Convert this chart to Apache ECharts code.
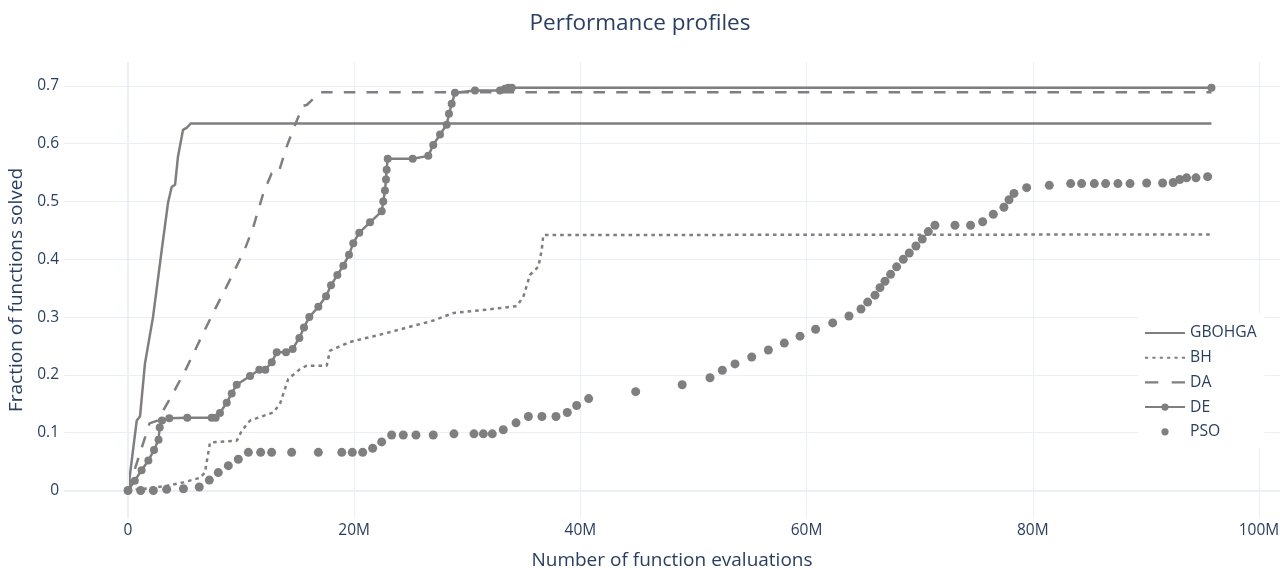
<!DOCTYPE html>
<html>
<head>
<meta charset="utf-8">
<title>Performance profiles</title>
<script src="https://cdn.jsdelivr.net/npm/echarts@6/dist/echarts.min.js"></script>
<style>
  html, body { margin: 0; padding: 0; background: #fff; }
  #chart { width: 1280px; height: 568px; }
</style>
</head>
<body>
<div id="chart"></div>
<script>
// Function evaluations are in millions (M); values are the fraction of functions solved.
const xTicks = [0, 20, 40, 60, 80, 100];
const yTicks = [0, 0.1, 0.2, 0.3, 0.4, 0.5, 0.6, 0.7];
const seriesNames = ['GBOHGA', 'BH', 'DA', 'DE', 'PSO'];

const gbohgaX = [0, 0.77, 1.06, 1.5, 2.21, 2.98, 3.54, 3.86, 4.16, 4.42, 4.75, 4.86, 5.22, 5.54, 95.8];
const gbohgaY = [0, 0.121, 0.128, 0.22, 0.3, 0.416, 0.498, 0.525, 0.529, 0.578, 0.612, 0.624, 0.628, 0.635, 0.635];

const bhX = [0, 1.06, 3.42, 4.9, 6.37, 6.8, 7.25, 9.61, 10.05, 10.79, 12.85, 13.44, 14.17, 15.21, 15.8, 17.57, 17.86, 19.63, 22.57, 26.99, 28.76, 31.72, 34.37, 34.95, 35.54, 36.28, 36.58, 36.72, 95.8];
const bhY = [0, 0.002, 0.008, 0.014, 0.022, 0.031, 0.083, 0.086, 0.103, 0.121, 0.135, 0.15, 0.193, 0.21, 0.216, 0.216, 0.242, 0.257, 0.271, 0.294, 0.307, 0.313, 0.319, 0.335, 0.373, 0.387, 0.416, 0.442, 0.443];

const daX = [0, 1.9, 2.6, 3.9, 5.2, 6.4, 7.6, 8.9, 10.3, 11.08, 11.96, 12.7, 13.3, 14.03, 14.77, 15.2, 15.4, 15.8, 17.0, 95.8];
const daY = [0, 0.116, 0.121, 0.165, 0.213, 0.262, 0.31, 0.36, 0.416, 0.456, 0.514, 0.549, 0.549, 0.595, 0.633, 0.653, 0.665, 0.667, 0.689, 0.689];

const deX = [0, 0.6, 1.2, 1.8, 2.3, 2.7, 2.8, 3.0, 3.65, 5.24, 7.4, 7.75, 8.13, 8.73, 9.17, 9.61, 10.79, 11.61, 12.14, 12.71, 13.15, 13.97, 14.56, 15.15, 15.56, 16.03, 16.83, 17.51, 17.95, 18.51, 19.04, 19.54, 19.92, 20.45, 21.4, 22.43, 22.57, 22.72, 22.81, 22.87, 22.96, 25.17, 26.55, 26.99, 27.59, 28.18, 28.38, 28.62, 28.91, 30.68, 32.89, 33.33, 33.63, 33.93, 95.8];
const deY = [0, 0.017, 0.035, 0.052, 0.07, 0.088, 0.109, 0.121, 0.125, 0.126, 0.126, 0.126, 0.134, 0.152, 0.168, 0.183, 0.198, 0.209, 0.209, 0.222, 0.239, 0.239, 0.245, 0.264, 0.282, 0.3, 0.318, 0.336, 0.355, 0.373, 0.389, 0.408, 0.428, 0.446, 0.464, 0.483, 0.5, 0.519, 0.538, 0.555, 0.574, 0.574, 0.579, 0.598, 0.616, 0.633, 0.652, 0.669, 0.688, 0.692, 0.692, 0.695, 0.697, 0.697, 0.697];

const psoX = [0, 1.12, 2.24, 3.42, 4.9, 6.3, 7.19, 7.98, 8.87, 9.75, 10.64, 11.73, 12.7, 14.47, 16.83, 18.9, 19.83, 20.75, 21.63, 22.43, 23.31, 24.34, 25.46, 26.99, 28.82, 30.59, 31.42, 32.21, 33.18, 34.31, 35.4, 36.6, 37.84, 38.84, 39.67, 40.73, 44.89, 49.0, 51.46, 52.55, 53.67, 55.15, 56.62, 58.03, 59.42, 60.8, 62.31, 63.75, 64.81, 65.4, 66.05, 66.49, 66.93, 67.43, 67.96, 68.55, 69.08, 69.67, 70.23, 70.76, 71.35, 73.12, 74.5, 75.57, 76.51, 77.45, 77.9, 78.34, 79.46, 81.46, 83.35, 84.32, 85.44, 86.44, 87.53, 88.6, 90.07, 91.48, 92.42, 93.0, 93.6, 94.43, 95.46];
const psoY = [0, 0, 0, 0.002, 0.003, 0.006, 0.018, 0.031, 0.043, 0.054, 0.066, 0.066, 0.066, 0.066, 0.066, 0.066, 0.066, 0.066, 0.073, 0.084, 0.096, 0.096, 0.096, 0.096, 0.098, 0.098, 0.098, 0.098, 0.105, 0.117, 0.128, 0.128, 0.128, 0.135, 0.147, 0.159, 0.171, 0.183, 0.195, 0.208, 0.219, 0.231, 0.243, 0.255, 0.267, 0.279, 0.29, 0.302, 0.314, 0.326, 0.338, 0.351, 0.362, 0.374, 0.387, 0.4, 0.411, 0.423, 0.435, 0.448, 0.459, 0.459, 0.459, 0.465, 0.478, 0.49, 0.503, 0.514, 0.524, 0.528, 0.531, 0.531, 0.531, 0.531, 0.531, 0.531, 0.532, 0.532, 0.533, 0.538, 0.541, 0.541, 0.543];

const zip = (xs, ys) => xs.map((x, i) => [x, ys[i]]);

const GRAY = '#7f7f7f';
const TEXT = '#2a3f5f';
const GRID = '#ebf0f8';
const FONT = '"Open Sans", Verdana, Arial, sans-serif';
const LINE_W = 2.5;

// Legend swatches for the line-only series: 40 x 2 strips (solid, dotted, dashed).
function strip(parts) {
  return 'path://' + parts.map(p => 'M' + p[0] + ',0h' + p[1] + 'v2h-' + p[1] + 'z').join(' ');
}
const solidIcon = strip([[0, 40]]);
const dottedIcon = strip([[0, 3], [7, 3], [14, 3], [21, 3], [28, 3], [35, 3]]);
const dashedIcon = strip([[0, 12], [24, 12]]);

const chart = echarts.init(document.getElementById('chart'), null, { renderer: 'canvas' });

chart.setOption({
  backgroundColor: '#ffffff',
  animation: false,
  textStyle: { fontFamily: FONT },
  title: {
    text: 'Performance profiles',
    left: 'center',
    top: 7,
    textStyle: { fontFamily: FONT, fontSize: 22.5, fontWeight: 'normal', color: TEXT }
  },
  grid: { left: 64, right: 0, top: 62, bottom: 50, containLabel: false, outerBoundsMode: 'none' },
  xAxis: {
    type: 'value',
    min: -5.66,
    max: 101.86,
    name: 'Number of function evaluations',
    nameLocation: 'middle',
    nameGap: 33,
    nameTextStyle: { fontFamily: FONT, fontSize: 19, color: TEXT },
    axisLine: { show: false },
    axisTick: { show: false, customValues: xTicks },
    axisLabel: {
      customValues: xTicks,
      margin: 5,
      fontFamily: FONT,
      fontSize: 15.5,
      color: TEXT,
      formatter: v => (v === 0 ? '0' : v + 'M')
    },
    splitLine: { show: true, lineStyle: { color: GRID, width: 1 } }
  },
  yAxis: {
    type: 'value',
    min: -0.0476,
    max: 0.7414,
    name: 'Fraction of functions solved',
    nameLocation: 'middle',
    nameGap: 34,
    nameTextStyle: { fontFamily: FONT, fontSize: 19, color: TEXT },
    axisLine: { show: false },
    axisTick: { show: false, customValues: yTicks },
    axisLabel: {
      customValues: yTicks,
      margin: 5,
      fontFamily: FONT,
      fontSize: 15.5,
      color: TEXT,
      formatter: v => String(Math.round(v * 10) / 10)
    },
    splitLine: { show: true, lineStyle: { color: GRID, width: 1 } }
  },
  legend: {
    orient: 'vertical',
    left: 1138,
    top: 313,
    padding: [12, 8, 8, 6],
    backgroundColor: '#ffffff',
    itemWidth: 40,
    itemHeight: 9,
    itemGap: 8.7,
    textStyle: { fontFamily: FONT, fontSize: 15.7, color: TEXT },
    data: [
      { name: 'GBOHGA', icon: solidIcon },
      { name: 'BH', icon: dottedIcon },
      { name: 'DA', icon: dashedIcon },
      { name: 'DE' },
      { name: 'PSO' }
    ]
  },
  series: [
    {
      // zero lines of both axes
      type: 'line',
      name: 'zero',
      data: [],
      silent: true,
      z: 1,
      markLine: {
        silent: true,
        symbol: 'none',
        label: { show: false },
        lineStyle: { color: GRID, width: 2, type: 'solid' },
        data: [{ xAxis: 0 }, { yAxis: 0 }]
      }
    },
    {
      name: seriesNames[0],
      type: 'line',
      data: zip(gbohgaX, gbohgaY),
      showSymbol: false,
      symbol: 'none',
      color: GRAY,
      lineStyle: { color: GRAY, width: LINE_W },
      z: 3
    },
    {
      name: seriesNames[1],
      type: 'line',
      data: zip(bhX, bhY),
      showSymbol: false,
      symbol: 'none',
      color: GRAY,
      lineStyle: { color: GRAY, width: LINE_W, type: [3.6, 4.0] },
      z: 3
    },
    {
      name: seriesNames[2],
      type: 'line',
      data: zip(daX, daY),
      showSymbol: false,
      symbol: 'none',
      color: GRAY,
      lineStyle: { color: GRAY, width: LINE_W, type: [11.5, 11.2] },
      z: 3
    },
    {
      name: seriesNames[3],
      type: 'line',
      data: zip(deX, deY),
      symbol: 'circle',
      symbolSize: 8,
      showAllSymbol: true,
      color: GRAY,
      itemStyle: { color: GRAY },
      lineStyle: { color: GRAY, width: LINE_W },
      z: 4
    },
    {
      name: seriesNames[4],
      type: 'line',
      data: zip(psoX, psoY),
      symbol: 'circle',
      symbolSize: 9,
      showAllSymbol: true,
      color: GRAY,
      itemStyle: { color: GRAY },
      lineStyle: { width: 0 },
      z: 5
    }
  ]
});
</script>
</body>
</html>
